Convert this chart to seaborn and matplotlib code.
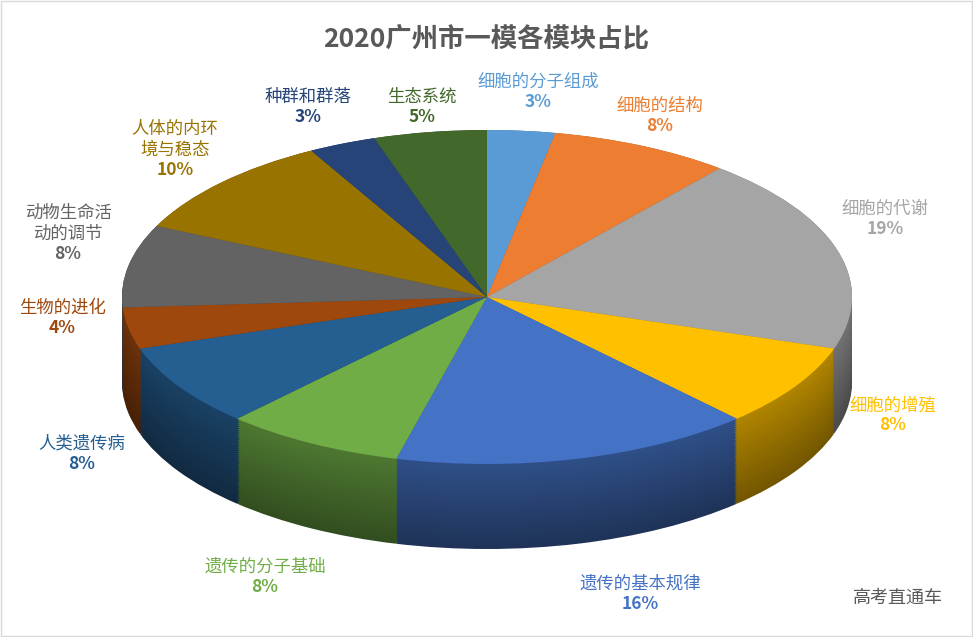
import matplotlib
matplotlib.use("Agg")
import matplotlib.pyplot as plt
import seaborn as sns
import numpy as np
from matplotlib.colors import to_rgb

sns.set_theme(style="white")
plt.rcParams['font.family'] = ['Noto Sans CJK SC', 'DejaVu Sans']

categories = ["细胞的分子组成", "细胞的结构", "细胞的代谢", "细胞的增殖", "遗传的基本规律",
              "遗传的分子基础", "人类遗传病", "生物的进化", "动物生命活\n动的调节",
              "人体的内环\n境与稳态", "种群和群落", "生态系统"]
values = [3, 8, 19, 8, 16, 8, 8, 4, 8, 10, 3, 5]
colors = ["#5B9BD5", "#ED7D31", "#A5A5A5", "#FFC000", "#4472C4", "#70AD47",
          "#255E91", "#9E480E", "#636363", "#997300", "#264478", "#43682B"]
label_px = [(538, 89), (660, 113), (885, 216), (893, 412), (640, 591), (265, 574),
            (82, 451), (62, 315), (68, 227), (175, 143), (308, 104), (422, 104)]

W, H = 973, 637
cx, cy, sx, sy = 487, 297, 365, 167
fig = plt.figure(figsize=(W / 100, H / 100), dpi=100)
ax = fig.add_axes([0, 0, 1, 1])

def dark(c, f):
    return tuple(v * f for v in to_rgb(c))

depth = 85 / sy
for k, off in enumerate(np.linspace(-depth, 0, 40)):
    f = 0.45 + 0.25 * k / 40
    ax.pie(values, colors=[dark(c, f) for c in colors], startangle=90, counterclock=False,
           center=(0, off), radius=1, wedgeprops=dict(linewidth=0))
ax.pie(values, colors=colors, startangle=90, counterclock=False, center=(0, 0), radius=1,
       wedgeprops=dict(linewidth=0))
ax.set_aspect('auto')
ax.set_xlim(-cx / sx, (W - cx) / sx)
ax.set_ylim(-(H - cy) / sy, cy / sy)
ax.axis('off')

for name, v, c, (px, py) in zip(categories, values, colors, label_px):
    x = (px - cx) / sx
    n = name.count("\n") + 1
    mid = py if n == 1 else py + 14
    ax.text(x, (cy - (mid + 2)) / sy, name, color=c, fontsize=12.5,
            ha='center', va='bottom', linespacing=1.25)
    ax.text(x, (cy - (mid + 4)) / sy, f"{v}%", color=c, fontsize=12.5,
            fontweight='bold', ha='center', va='top')

fig.text(0.5, 1 - 40 / H, "2020广州市一模各模块占比", ha='center', va='center',
         fontsize=19, fontweight='bold', color='#595959')
fig.text(1 - 30 / W, 1 - 598 / H, "高考直通车", ha='right', va='center', fontsize=13, color='#595959')
fig.patches.append(plt.Rectangle((0.001, 0.001), 0.998, 0.998, transform=fig.transFigure,
                                 fill=False, edgecolor='#D9D9D9', linewidth=1))
fig.savefig("out.png", dpi=100)
